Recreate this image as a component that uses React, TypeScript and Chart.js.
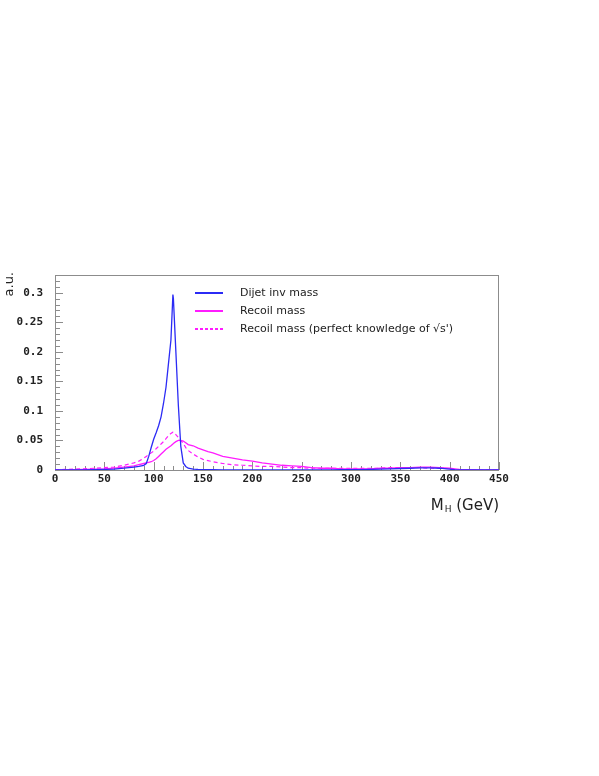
import React, { useEffect, useRef } from "react";
import { Chart, registerables } from "chart.js";

Chart.register(...registerables);

const massBins = [0, 10, 20, 30, 40, 50, 60, 70, 80, 85, 90, 92.5, 95, 97.5, 100, 102.5, 105, 107.5, 110, 112.5, 115, 117.5, 119.5, 120, 122.5, 125, 127.5, 130, 132.5, 135, 140, 145, 150, 155, 160, 170, 180, 190, 200, 210, 220, 230, 240, 250, 260, 270, 280, 290, 300, 310, 320, 330, 340, 350, 360, 370, 380, 390, 400, 405, 410, 420, 430, 440, 450];

const dijetMass = [0, 0, 0, 0.0003, 0.0005, 0.001, 0.0015, 0.003, 0.005, 0.006, 0.008, 0.011, 0.023, 0.038, 0.052, 0.063, 0.075, 0.09, 0.113, 0.14, 0.18, 0.22, 0.297, 0.29, 0.2, 0.11, 0.04, 0.012, 0.006, 0.003, 0.0015, 0.001, 0.0008, 0.0005, 0.0004, 0.0003, 0.0003, 0.0003, 0.0002, 0.0002, 0.0002, 0.0002, 0.0002, 0.0003, 0.0003, 0.0003, 0.0003, 0.0004, 0.0005, 0.0008, 0.001, 0.0015, 0.002, 0.0025, 0.003, 0.0035, 0.0035, 0.003, 0.0015, 0.0005, 0, 0, 0, 0, 0];

const recoilMass = [0, 0, 0.0005, 0.001, 0.0015, 0.002, 0.003, 0.005, 0.007, 0.009, 0.011, 0.012, 0.013, 0.014, 0.016, 0.019, 0.023, 0.027, 0.031, 0.035, 0.038, 0.041, 0.044, 0.045, 0.048, 0.05, 0.05, 0.049, 0.046, 0.043, 0.041, 0.037, 0.034, 0.031, 0.029, 0.023, 0.02, 0.017, 0.015, 0.012, 0.01, 0.008, 0.007, 0.006, 0.004, 0.003, 0.003, 0.002, 0.002, 0.002, 0.002, 0.003, 0.003, 0.004, 0.004, 0.005, 0.005, 0.004, 0.003, 0.002, 0.001, 0.0005, 0, 0, 0];

const recoilMassPerfect = [0.0005, 0.001, 0.0015, 0.002, 0.003, 0.004, 0.005, 0.008, 0.012, 0.015, 0.02, 0.023, 0.026, 0.029, 0.032, 0.036, 0.04, 0.044, 0.048, 0.053, 0.058, 0.062, 0.064, 0.064, 0.06, 0.055, 0.05, 0.045, 0.038, 0.033, 0.027, 0.022, 0.018, 0.016, 0.014, 0.011, 0.009, 0.008, 0.007, 0.006, 0.006, 0.005, 0.004, 0.004, 0.003, 0.003, 0.003, 0.003, 0.003, 0.003, 0.003, 0.003, 0.004, 0.004, 0.004, 0.004, 0.003, 0.003, 0.002, 0.001, 0.0005, 0, 0, 0, 0];

const seriesLabels = ["Dijet inv mass", "Recoil mass", "Recoil mass (perfect knowledge of \u221As')"];
const xTitle = "M";
const xTitleSub = "H";
const xTitleRest = " (GeV)";
const yTitle = "a.u.";

const BLUE = "#2b2bf5";
const MAGENTA = "#ff1cff";
const FRAME = "#8c8c8c";

const toPoints = (ys: number[]) => massBins.map((x, i) => ({ x, y: ys[i] }));

export default function App() {
  const ref = useRef<HTMLCanvasElement | null>(null);

  useEffect(() => {
    if (!ref.current) return;

    const decor = {
      id: "decor",
      beforeDatasetsDraw(chart: any) {
        const { ctx, chartArea: a, scales } = chart;
        const xs = scales.x;
        const ys = scales.y;
        ctx.save();
        ctx.strokeStyle = FRAME;
        ctx.lineWidth = 1;
        ctx.strokeRect(a.left + 0.5, a.top + 0.5, a.right - a.left - 1, a.bottom - a.top);
        ctx.beginPath();
        xs.ticks.forEach((t: any) => {
          const px = Math.round(xs.getPixelForValue(t.value)) + 0.5;
          const major = Math.round(t.value) % 50 === 0;
          const len = major ? 8 : 4;
          ctx.moveTo(px, a.bottom);
          ctx.lineTo(px, a.bottom - len);
        });
        ys.ticks.forEach((t: any) => {
          const py = Math.round(ys.getPixelForValue(t.value)) + 0.5;
          const major = Math.round(t.value * 100) % 5 === 0;
          const len = major ? 8 : 5;
          ctx.moveTo(a.left, py);
          ctx.lineTo(a.left + len, py);
        });
        ctx.stroke();
        ctx.restore();
      },
      afterDraw(chart: any) {
        const { ctx, chartArea: a } = chart;
        ctx.save();
        // legend
        const colors = [BLUE, MAGENTA, MAGENTA];
        const dashes = [[], [], [3, 2]];
        const rowY = [293, 311, 329];
        ctx.font = "11px 'DejaVu Sans'";
        ctx.textBaseline = "middle";
        ctx.textAlign = "left";
        seriesLabels.forEach((lab, i) => {
          ctx.strokeStyle = colors[i];
          ctx.lineWidth = 2;
          ctx.setLineDash(dashes[i]);
          ctx.beginPath();
          ctx.moveTo(195, rowY[i]);
          ctx.lineTo(223, rowY[i]);
          ctx.stroke();
          ctx.setLineDash([]);
          ctx.fillStyle = "#222";
          ctx.fillText(lab, 240, rowY[i]);
        });
        // x title
        ctx.fillStyle = "#222";
        ctx.textBaseline = "alphabetic";
        ctx.font = "15px 'DejaVu Sans'";
        const restW = ctx.measureText(xTitleRest).width;
        const mW = ctx.measureText(xTitle).width;
        ctx.font = "9px 'DejaVu Sans'";
        const subW = ctx.measureText(xTitleSub).width;
        const x0 = a.right - (mW + subW + restW + 1);
        ctx.font = "15px 'DejaVu Sans'";
        ctx.fillText(xTitle, x0, 510);
        ctx.font = "9px 'DejaVu Sans'";
        ctx.fillText(xTitleSub, x0 + mW + 1, 512);
        ctx.font = "15px 'DejaVu Sans'";
        ctx.fillText(xTitleRest, x0 + mW + subW + 1, 510);
        // y title
        ctx.translate(13, a.top - 3);
        ctx.rotate(-Math.PI / 2);
        ctx.textAlign = "right";
        ctx.textBaseline = "alphabetic";
        ctx.font = "13px 'DejaVu Sans'";
        ctx.fillText(yTitle, 0, 0);
        ctx.restore();
      },
    };

    const chart = new Chart(ref.current, {
      type: "line",
      data: {
        datasets: [
          { label: seriesLabels[0], data: toPoints(dijetMass), borderColor: BLUE, borderWidth: 1.3, pointRadius: 0, fill: false, tension: 0 },
          { label: seriesLabels[1], data: toPoints(recoilMass), borderColor: MAGENTA, borderWidth: 1.3, pointRadius: 0, fill: false, tension: 0 },
          { label: seriesLabels[2], data: toPoints(recoilMassPerfect), borderColor: MAGENTA, borderWidth: 1.2, borderDash: [4, 3], pointRadius: 0, fill: false, tension: 0 },
        ],
      },
      options: {
        responsive: false,
        animation: false,
        layout: { padding: { left: 0, top: 275, right: 100, bottom: 286 } },
        plugins: { legend: { display: false }, tooltip: { enabled: false } },
        scales: {
          x: {
            type: "linear",
            min: 0,
            max: 450,
            grid: { display: false, drawTicks: false },
            border: { display: false },
            afterFit: (s: any) => { s.height = 20; },
            ticks: {
              stepSize: 10,
              autoSkip: false,
              maxRotation: 0,
              padding: 3,
              color: "#222",
              font: { family: "'DejaVu Sans Mono'", size: 11, weight: "bold" },
              callback: (v: any) => (Math.round(v) % 50 === 0 ? String(Math.round(v)) : ""),
            },
          },
          y: {
            type: "linear",
            min: 0,
            max: 0.33,
            grid: { display: false, drawTicks: false },
            border: { display: false },
            afterFit: (s: any) => { s.width = 55; },
            ticks: {
              stepSize: 0.01,
              autoSkip: false,
              padding: 12,
              color: "#222",
              font: { family: "'DejaVu Sans Mono'", size: 11, weight: "bold" },
              callback: (v: any) => {
                const k = Math.round(v * 100);
                return k % 5 === 0 ? String(k / 100) : "";
              },
            },
          },
        },
      },
      plugins: [decor],
    } as any);

    return () => chart.destroy();
  }, []);

  return (
    <div style={{ position: "absolute", left: 0, top: 0, width: 599, height: 776, background: "#fff" }}>
      <canvas ref={ref} width={599} height={776} style={{ display: "block" }} />
    </div>
  );
}
